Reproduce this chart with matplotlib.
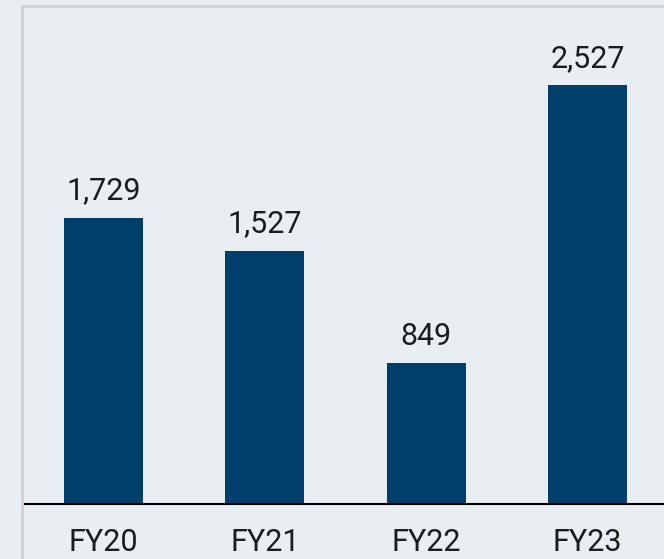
import matplotlib.pyplot as plt
from matplotlib.lines import Line2D

# data
years = ["FY20", "FY21", "FY22", "FY23"]
values = [1729, 1527, 849, 2527]

bg = "#E9EEF3"
bar_color = "#003F6B"
font = "Roboto"

fig = plt.figure(figsize=(6.64, 5.59), dpi=100)
fig.patch.set_facecolor(bg)

# axes placed so baseline sits at y=504px and left edge at x=23px
ax = fig.add_axes([23 / 664, 55 / 559, 1 - 23 / 664, 497 / 559])
ax.set_facecolor(bg)

x = range(len(years))
bars = ax.bar(x, values, width=0.49, color=bar_color)

for b, v in zip(bars, values):
    ax.annotate(f"{v:,}", (b.get_x() + b.get_width() / 2, v),
                xytext=(0, 9), textcoords="offset points",
                ha="center", va="bottom", fontsize=22, family=font,
                color="#1c1c1c")

ax.set_xlim(-0.5, 3.474)
ax.set_ylim(0, 3000)
ax.set_xticks(list(x))
ax.set_xticklabels(years, fontsize=22, family=font, color="#1c1c1c")
ax.tick_params(axis="x", length=0, pad=17)
ax.set_yticks([])

for s in ["top", "right", "left"]:
    ax.spines[s].set_visible(False)
ax.spines["bottom"].set_color("black")
ax.spines["bottom"].set_linewidth(1.5)

# light gray panel border (left and top)
fig.add_artist(Line2D([22 / 664, 22 / 664], [0, 1 - 6 / 559], color="#D2D2D2", lw=2, transform=fig.transFigure))
fig.add_artist(Line2D([22 / 664, 1], [1 - 6 / 559, 1 - 6 / 559], color="#D2D2D2", lw=2, transform=fig.transFigure))

fig.savefig("out.png", dpi=100, facecolor=bg)
